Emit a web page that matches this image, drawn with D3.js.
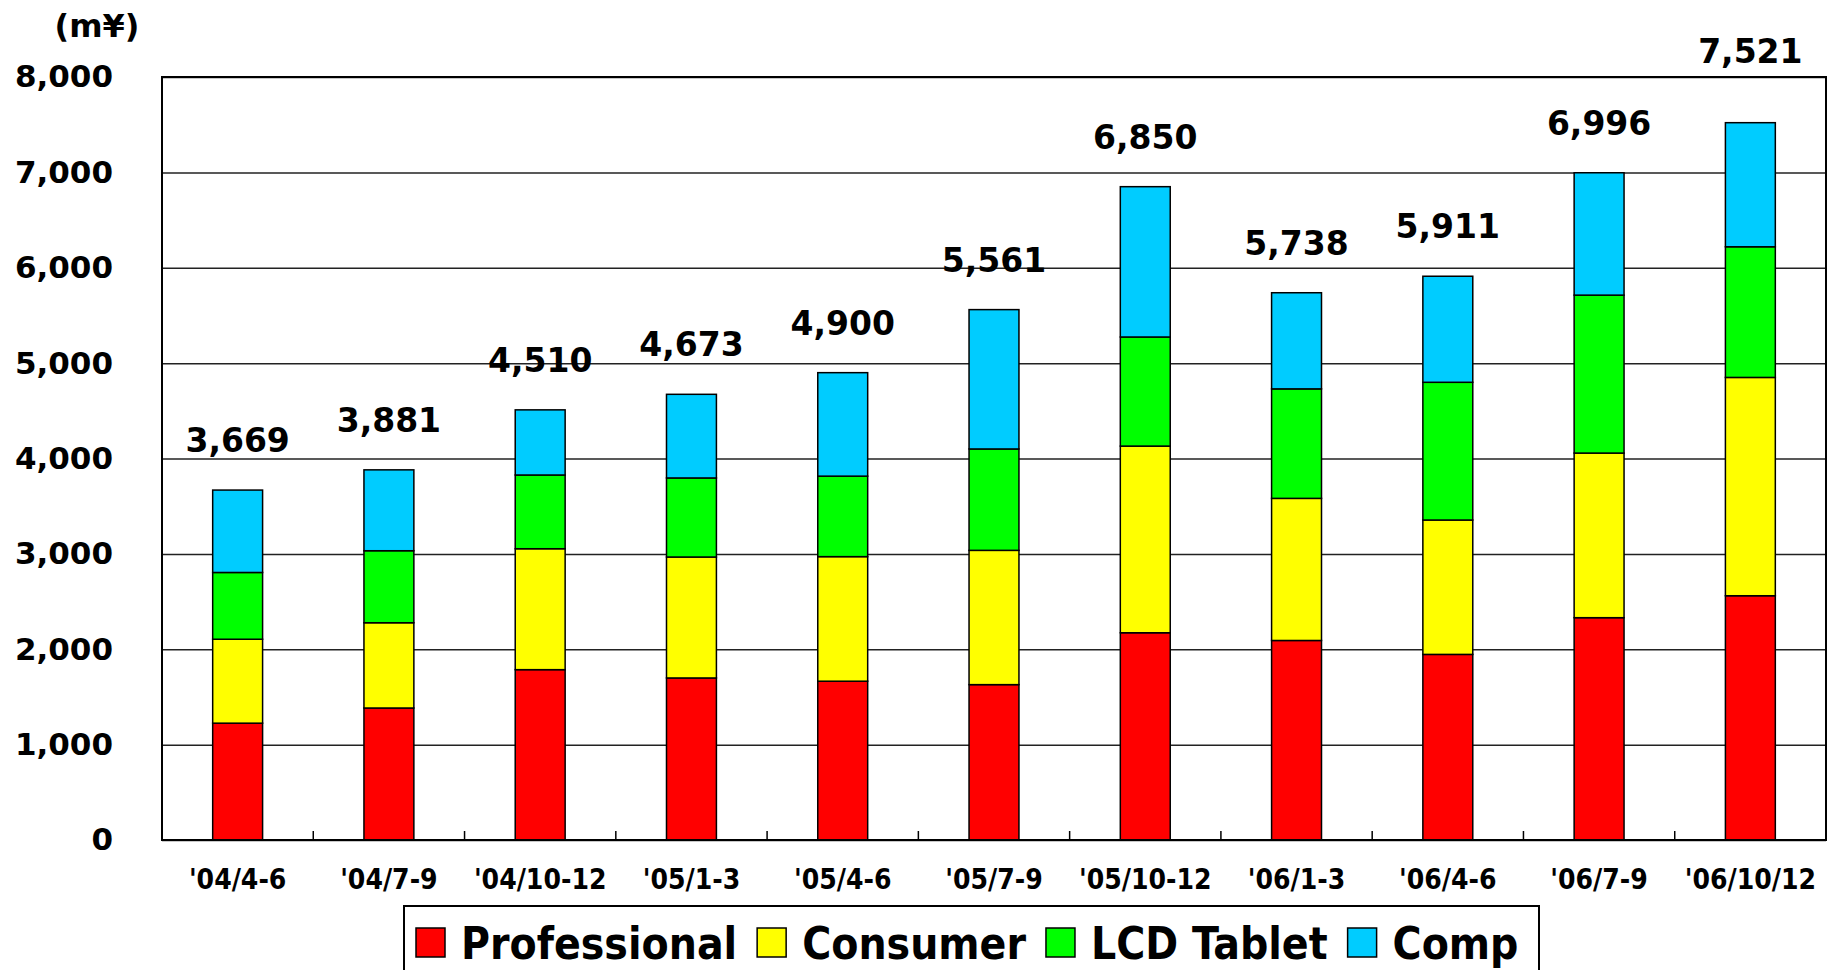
<!DOCTYPE html>
<html>
<head>
<meta charset="utf-8">
<script src="https://cdn.jsdelivr.net/npm/d3@7"></script>
<style>
  body { margin: 0; background: #fff; }
  text { font-family: "DejaVu Sans", sans-serif; font-weight: bold; fill: #000; }
  .cond { font-family: "DejaVu Sans Condensed", "DejaVu Sans", sans-serif; font-stretch: condensed; }
</style>
</head>
<body>
<div id="chart"></div>
<script>

// data (m yen, per quarter)
var quarters = ["'04/4-6", "'04/7-9", "'04/10-12", "'05/1-3", "'05/4-6", "'05/7-9",
    "'05/10-12", "'06/1-3", "'06/4-6", "'06/7-9", "'06/10/12"];
var professional = [1225, 1384, 1786, 1699, 1665, 1629, 2173, 2092, 1946, 2331, 2561];
var consumer     = [880, 894, 1268, 1268, 1306, 1408, 1957, 1490, 1409, 1726, 2289];
var lcdTablet    = [700, 755, 773, 829, 844, 1063, 1144, 1148, 1444, 1656, 1370];
var comp         = [864, 848, 683, 877, 1085, 1461, 1576, 1008, 1112, 1283, 1301];
var seriesNames  = ["Professional", "Consumer", "LCD Tablet", "Comp"];
var yTicks       = [0, 1000, 2000, 3000, 4000, 5000, 6000, 7000, 8000];

var colors = ["#ff0000", "#ffff00", "#00ff00", "#00ccff"];

// set the dimensions and margins of the graph
var margin = { top: 77, right: 2, bottom: 130, left: 162 },
    width = 1828 - margin.left - margin.right,
    height = 970 - margin.top - margin.bottom;

var root = d3.select("#chart")
    .append("svg")
    .attr("width", 1828)
    .attr("height", 970);

var svg = root.append("g")
    .attr("transform", "translate(" + margin.left + "," + margin.top + ")");

// build rows for the stack
var rows = quarters.map(function (q, i) {
    return { q: q, "Professional": professional[i], "Consumer": consumer[i],
        "LCD Tablet": lcdTablet[i], "Comp": comp[i] };
});
var stacked = d3.stack().keys(seriesNames)(rows);

function total(d) { return d["Professional"] + d["Consumer"] + d["LCD Tablet"] + d["Comp"]; }

var x = d3.scaleBand()
    .domain(quarters)
    .range([0, width])
    .paddingInner(0.67)
    .paddingOuter(0.335);

var y = d3.scaleLinear()
    .domain([0, 8000])
    .range([height, 0]);

// gridlines + y labels
var yAxis = svg.append("g")
    .call(d3.axisLeft(y).tickValues(yTicks).tickSize(-width).tickPadding(49).tickFormat(d3.format(",")));
yAxis.select(".domain").remove();
yAxis.selectAll("line").attr("stroke", "#222").attr("stroke-width", 1.5);
yAxis.selectAll("text")
    .style("font-size", "31px")
    .attr("font-family", null)
    .attr("fill", "#000");

// stacked bars
svg.append("g")
    .selectAll("g")
    .data(stacked)
    .enter()
    .append("g")
    .attr("fill", function (d, i) { return colors[i]; })
    .selectAll("rect")
    .data(function (d) { return d; })
    .enter()
    .append("rect")
    .attr("x", function (d) { return x(d.data.q); })
    .attr("y", function (d) { return y(d[1]); })
    .attr("width", x.bandwidth())
    .attr("height", function (d) { return y(d[0]) - y(d[1]); })
    .attr("stroke", "#000")
    .attr("stroke-width", 1.5);

// totals above bars; a label that would sit on the top frame is lifted above it
svg.append("g")
    .selectAll("text")
    .data(rows)
    .enter()
    .append("text")
    .attr("x", function (d) { return x(d.q) + x.bandwidth() / 2; })
    .attr("y", function (d) {
        var ly = y(total(d)) - 38;
        if (ly > -14 && ly < 30) ly = -14;
        return ly;
    })
    .attr("text-anchor", "middle")
    .style("font-size", "33px")
    .text(function (d) { return d3.format(",")(total(d)); });

// plot frame
svg.append("rect")
    .attr("width", width)
    .attr("height", height)
    .attr("fill", "none")
    .attr("stroke", "#000")
    .attr("stroke-width", 2);

// x tick marks between categories (pointing up)
var step = x.step();
svg.append("g")
    .selectAll("line")
    .data(quarters.slice(1))
    .enter()
    .append("line")
    .attr("x1", function (d) { return x(d) - (step - x.bandwidth()) / 2; })
    .attr("x2", function (d) { return x(d) - (step - x.bandwidth()) / 2; })
    .attr("y1", height)
    .attr("y2", height - 9)
    .attr("stroke", "#000")
    .attr("stroke-width", 1.5);

// x labels
svg.append("g")
    .selectAll("text")
    .data(quarters)
    .enter()
    .append("text")
    .attr("class", "cond")
    .attr("x", function (d) { return x(d) + x.bandwidth() / 2; })
    .attr("y", height + 49)
    .attr("text-anchor", "middle")
    .style("font-size", "28px")
    .text(function (d) { return d; });

// unit label
root.append("text")
    .attr("x", 97)
    .attr("y", 37)
    .attr("text-anchor", "middle")
    .style("font-size", "32px")
    .text("(m¥)");

// legend
var legend = root.append("g").attr("transform", "translate(404,906)");
legend.append("rect")
    .attr("width", 1135)
    .attr("height", 90)
    .attr("fill", "#fff")
    .attr("stroke", "#000")
    .attr("stroke-width", 2);

var lx = 12;
seriesNames.forEach(function (name, i) {
    legend.append("rect")
        .attr("x", lx)
        .attr("y", 22)
        .attr("width", 29)
        .attr("height", 29)
        .attr("fill", colors[i])
        .attr("stroke", "#000")
        .attr("stroke-width", 1.5);
    var t = legend.append("text")
        .attr("class", "cond")
        .attr("x", lx + 29 + 16)
        .attr("y", 53)
        .style("font-size", "44px")
        .text(name);
    lx = lx + 29 + 16 + t.node().getComputedTextLength() + 20;
});

</script>
</body>
</html>
